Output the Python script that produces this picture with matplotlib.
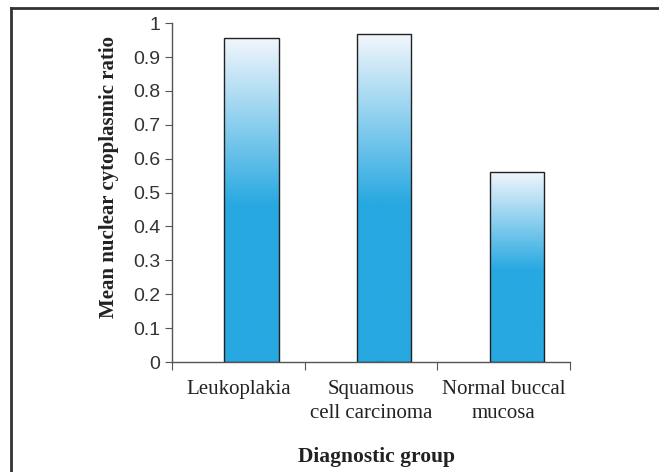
import matplotlib
matplotlib.use("Agg")
import matplotlib.pyplot as plt
import numpy as np
from matplotlib.colors import LinearSegmentedColormap
from matplotlib.lines import Line2D

categories = ["Leukoplakia", "Squamous\ncell carcinoma", "Normal buccal\nmucosa"]
values = [0.955, 0.967, 0.561]
yticks = [0, 0.1, 0.2, 0.3, 0.4, 0.5, 0.6, 0.7, 0.8, 0.9, 1]
yticklabels = ["0", "0.1", "0.2", "0.3", "0.4", "0.5", "0.6", "0.7", "0.8", "0.9", "1"]

fig = plt.figure(figsize=(6.59, 4.72), dpi=100)
ax = fig.add_axes([0.261, 0.233, 0.604, 0.718])

cmap = LinearSegmentedColormap.from_list("g", [(0, "#27a8e1"), (0.48, "#27a8e1"), (1.0, "#f2f6fc")])
x = np.arange(len(categories))
bars = ax.bar(x + 0.1, values, width=0.41, facecolor="none", edgecolor="#222222", linewidth=1.0, zorder=3)
grad = np.linspace(0, 1, 256).reshape(-1, 1)
for b in bars:
    x0, w, h = b.get_x(), b.get_width(), b.get_height()
    im = ax.imshow(grad, cmap=cmap, origin="lower", aspect="auto",
                   extent=[x0, x0 + w, 0, h], zorder=2, interpolation="bicubic")
    im.set_clip_path(b)

ax.set_xlim(-0.5, 2.5)
ax.set_ylim(0, 1)
ax.set_xticks([-0.5, 0.5, 1.5, 2.5])
ax.set_xticklabels([])
ax.set_xticks(x, minor=True)
ax.set_xticklabels(categories, minor=True, fontfamily="Liberation Serif", fontsize=15, color="#222222",
                   linespacing=1.35)
ax.tick_params(axis="x", which="minor", length=0, pad=13)
ax.tick_params(axis="x", which="major", length=6, color="#555555", direction="out")
ax.set_yticks(yticks)
ax.set_yticklabels(yticklabels, fontfamily="Liberation Sans", fontsize=14, color="#333333")
ax.tick_params(axis="y", length=5, color="#555555", direction="out", pad=3.5)
for s in ["top", "right"]:
    ax.spines[s].set_visible(False)
for s in ["left", "bottom"]:
    ax.spines[s].set_color("#555555")
    ax.spines[s].set_linewidth(1.0)

fig.text(109/659, 1 - 176.5/472, "Mean nuclear cytoplasmic ratio", fontfamily="Liberation Serif",
         fontweight="bold", fontsize=15, color="#222222", ha="center", va="center", rotation=90)
fig.text(377/659, 1 - 457/472, "Diagnostic group", fontfamily="Liberation Serif", fontweight="bold",
         fontsize=15.5, color="#222222", ha="center", va="center")

fig.add_artist(Line2D([11/659, 1], [1 - 8/472, 1 - 8/472], color="#333333", linewidth=2, transform=fig.transFigure))
fig.add_artist(Line2D([11/659, 11/659], [1 - 8/472, 0], color="#333333", linewidth=2, transform=fig.transFigure))

fig.savefig("out.png", dpi=100)
